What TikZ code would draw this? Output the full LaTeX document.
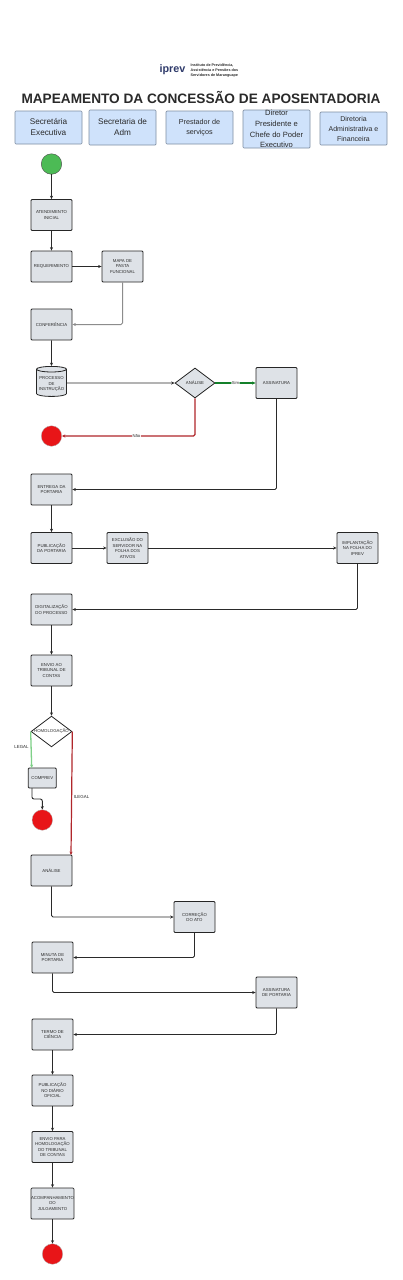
\documentclass[tikz,border=0pt]{standalone}
\usepackage{fontspec}
\setmainfont{Liberation Sans}
\usetikzlibrary{arrows.meta,shapes.geometric}
\definecolor{headfill}{HTML}{CFE2FB}
\definecolor{headline}{HTML}{7F8EA3}
\definecolor{boxfill}{HTML}{DEE2E7}
\definecolor{ink}{HTML}{2A2A2A}
\definecolor{navy}{HTML}{2F3B6B}
\definecolor{okgreen}{HTML}{14802A}
\definecolor{lightgreen}{HTML}{7FD088}
\definecolor{nored}{HTML}{B0262B}
\definecolor{startgreen}{HTML}{4CBB55}
\definecolor{endred}{HTML}{E81518}
\tikzset{
  x=1pt,y=-1pt,
  headbox/.style={draw=headline,line width=.7pt,fill=headfill,rounded corners=1pt,minimum width=67pt,inner sep=0pt,align=center,text=ink},
  headtext/.style={font=\fontsize{8.2}{11}\selectfont},
  procbox/.style={draw=black!85,line width=.8pt,fill=boxfill,rounded corners=1pt,minimum width=41pt,minimum height=31pt,inner sep=0pt,align=center,text=ink,font=\fontsize{4.3}{5.6}\selectfont},
  startdot/.style={circle,draw=black!70,line width=.4pt,fill=startgreen,minimum size=20.5pt,inner sep=0pt},
  enddot/.style={circle,draw=black!30,line width=.3pt,fill=endred,minimum size=20.5pt,inner sep=0pt},
  decide/.style={diamond,aspect=1.33,draw=black!85,line width=.8pt,fill=boxfill,inner sep=0pt,align=center,text=ink,font=\fontsize{4.3}{5.6}\selectfont},
  flow/.style={draw=ink,line width=.9pt,rounded corners=1.5pt,-{Stealth[length=3.4pt,width=3pt]}},
  grayflow/.style={flow,draw=black!45,line width=1pt},
  yesflow/.style={flow,draw=okgreen,line width=1.2pt},
  noflow/.style={flow,draw=nored,line width=1.2pt},
  legalflow/.style={flow,draw=lightgreen,line width=1.3pt},
  edgelabel/.style={fill=white,inner sep=.5pt,text=ink,font=\fontsize{4.2}{5}\selectfont},
  freelabel/.style={inner sep=0pt,text=ink,font=\fontsize{4.4}{5}\selectfont},
}
\begin{document}
\begin{tikzpicture}
\useasboundingbox (0,0) rectangle (402,1280);
\fill[white] (0,0) rectangle (402,1280);
% logo
\node[inner sep=0pt,text=navy,font=\bfseries\fontsize{10.8}{10}\selectfont] (logo) at (172.5,70) {iprev};
\node[inner sep=0pt,text=ink,anchor=west,align=left,font=\bfseries\fontsize{3.7}{5.1}\selectfont] (logotext) at (190.5,70.5) {Instituto de Previdência,\\Assistência e Pensões dos\\Servidores de Maranguape};
% title
\node[inner sep=0pt,text=ink,font=\bfseries\fontsize{13.65}{15}\selectfont] (title) at (201,97.5) {MAPEAMENTO DA CONCESSÃO DE APOSENTADORIA};
% headers
\node[headbox,headtext,minimum height=33pt] (h1) at (48.5,127.5) {Secretária\\Executiva};
\node[headbox,headtext,minimum height=35pt] (h2) at (122.5,127.5) {Secretaria de\\Adm};
\node[headbox,minimum height=33pt,font=\fontsize{7.2}{10}\selectfont] (h3) at (199.5,127.5) {Prestador de\\serviços};
\node[headbox,minimum height=38pt,font=\fontsize{7.6}{10.6}\selectfont] (h4) at (276.5,129) {Diretor\\Presidente e\\Chefe do Poder\\Executivo};
\node[headbox,minimum height=33pt,font=\fontsize{7}{10}\selectfont] (h5) at (353.5,128.5) {Diretoria\\Administrativa e\\Financeira};
% column 1, upper
\node[startdot] (start) at (51.5,164) {};
\node[procbox] (atend) at (51.5,215) {ATENDIMENTO\\INICIAL};
\node[procbox] (req) at (51.5,266.5) {REQUERIMENTO};
\node[procbox] (mapa) at (122.5,266.5) {MAPA DE\\PASTA\\FUNCIONAL};
\node[procbox] (conf) at (51.5,324.5) {CONFERÊNCIA};
\node[cylinder,shape border rotate=90,aspect=.22,draw=black!85,line width=.8pt,fill=boxfill,minimum width=30pt,minimum height=30pt,inner sep=0pt,align=center,text=ink,font=\fontsize{4.3}{5.6}\selectfont] (proc) at (51.5,383) {\\PROCESSO\\DE\\INSTRUÇÃO};
\node[decide,minimum width=40pt,minimum height=30pt] (ana) at (195,383) {ANÁLISE};
\node[procbox] (assin) at (276.5,383) {ASSINATURA};
\node[enddot] (end1) at (51.5,436) {};
\node[procbox] (entrega) at (51.5,489.5) {ENTREGA DA\\PORTARIA};
\node[procbox] (pub) at (51.5,548) {PUBLICAÇÃO\\DA PORTARIA};
\node[procbox] (excl) at (127.5,548) {EXCLUSÃO DO\\SERVIDOR NA\\FOLHA DOS\\ATIVOS};
\node[procbox] (impl) at (357.5,548) {IMPLANTAÇÃO\\NA FOLHA DO\\IPREV};
\node[procbox] (digi) at (51.5,609.5) {DIGITALIZAÇÃO\\DO PROCESSO};
\node[procbox] (envio) at (51.5,670.5) {ENVIO AO\\TRIBUNAL DE\\CONTAS};
\node[decide,minimum width=39.5pt,minimum height=29.5pt,fill=white] (homo) at (51.5,731.5) {HOMOLOGAÇÃO};
\node[procbox,minimum width=28pt,minimum height=20pt] (comprev) at (42.3,778) {COMPREV};
\node[enddot] (end2) at (42.3,820) {};
\node[procbox] (analise) at (51.5,870.5) {ANÁLISE};
\node[procbox] (corr) at (194.5,917) {CORREÇÃO\\DO ATO};
\node[procbox] (minuta) at (52.5,957.5) {MINUTA DE\\PORTARIA};
\node[procbox] (assinp) at (276.5,992.5) {ASSINATURA\\DE PORTARIA};
\node[procbox] (termo) at (52.5,1034.5) {TERMO DE\\CIÊNCIA};
\node[procbox] (pubd) at (52.5,1090.5) {PUBLICAÇÃO\\NO DIÁRIO\\OFICIAL};
\node[procbox] (enviop) at (52.5,1147) {ENVIO PARA\\HOMOLOGAÇÃO\\DO TRIBUNAL\\DE CONTAS};
\node[procbox] (acomp) at (52.5,1203.5) {ACOMPANHAMENTO\\DO\\JULGAMENTO};
\node[enddot] (end3) at (52.5,1254) {};
% helper coordinates
\coordinate (cgreen) at (31.7,768);
\coordinate (cout) at (32,788);
\coordinate (cmid) at (42.3,799);
\coordinate (cred) at (71,855);
% connectors
\draw[flow] (start) -- (atend);
\draw[flow] (atend) -- (req);
\draw[flow] (req) -- (mapa);
\draw[grayflow] (mapa.south) |- (conf.east);
\draw[flow] (conf) -- (proc);
\draw[flow] (proc) -- (ana);
\draw[yesflow] (ana) -- node[edgelabel] (sim) {Sim} (assin);
\draw[noflow] (ana.south) |- node[edgelabel,pos=.72] (nao) {Não} (end1.east);
\draw[flow] (assin.south) |- (entrega.east);
\draw[flow] (entrega) -- (pub);
\draw[flow] (pub) -- (excl);
\draw[flow] (excl) -- (impl);
\draw[flow] (impl.south) |- (digi.east);
\draw[flow] (digi) -- (envio);
\draw[flow] (envio) -- (homo);
\draw[legalflow] (homo.west) -- (cgreen);
\draw[noflow] (homo.east) -- (cred);
\draw[flow,rounded corners=2pt] (cout) |- (cmid) -- (end2.north);
\draw[flow] (analise.south) |- (corr.west);
\draw[flow] (corr.south) |- (minuta.east);
\draw[flow] (minuta.south) |- (assinp.west);
\draw[flow] (assinp.south) |- (termo.east);
\draw[flow] (termo) -- (pubd);
\draw[flow] (pubd) -- (enviop);
\draw[flow] (enviop) -- (acomp);
\draw[flow] (acomp) -- (end3);
% free labels
\node[freelabel] (lleg) at (21.5,747) {LEGAL};
\node[freelabel] (lile) at (81.5,797) {ILEGAL};
\end{tikzpicture}
\end{document}
